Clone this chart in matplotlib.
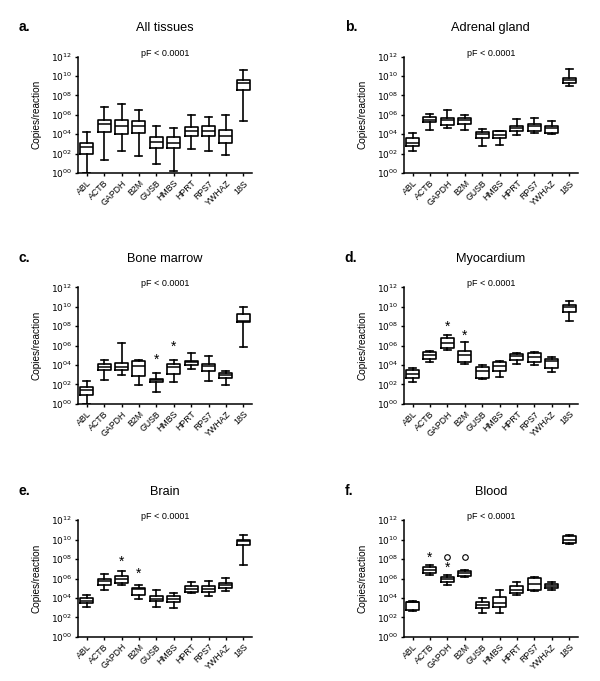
import matplotlib
matplotlib.use('Agg')
import matplotlib.pyplot as plt

plt.rcParams['font.family'] = ['Liberation Sans', 'DejaVu Sans']

# genes on the x axis
genes = ['ABL', 'ACTB', 'GAPDH', 'B2M', 'GUSB', 'HMBS', 'HPRT', 'RPS7', 'YWHAZ', '18S']

# box stats per gene, log10(copies): (whisker low, q1, median, q3, whisker high)
all_tissues = [(0.0, 1.94, 2.7, 3.12, 4.27), (1.32, 4.27, 5.06, 5.41, 6.8),
               (2.25, 3.99, 4.79, 5.48, 7.11), (1.73, 4.16, 4.86, 5.31, 6.45),
               (0.97, 2.53, 3.23, 3.75, 4.79), (0.21, 2.53, 3.12, 3.68, 4.61),
               (2.46, 3.85, 4.34, 4.72, 6.0), (2.29, 3.82, 4.37, 4.79, 5.76),
               (1.84, 3.05, 3.82, 4.44, 6.0), (5.31, 8.6, 9.23, 9.57, 10.61)]
adrenal = [(2.25, 2.81, 3.12, 3.57, 4.09), (4.44, 5.24, 5.48, 5.76, 6.1),
           (4.61, 4.96, 5.41, 5.65, 6.45), (4.44, 5.03, 5.41, 5.65, 6.0),
           (2.81, 3.64, 3.99, 4.27, 4.51), (2.88, 3.57, 3.92, 4.3, 4.34),
           (3.92, 4.34, 4.61, 4.86, 5.55), (4.09, 4.37, 4.79, 5.03, 5.65),
           (3.99, 4.16, 4.61, 4.79, 5.31), (8.95, 9.3, 9.54, 9.75, 10.68)]
bone_marrow = [(0.0, 0.89, 1.41, 1.71, 2.4), (2.5, 3.46, 3.81, 4.11, 4.49),
               (3.02, 3.46, 3.77, 4.22, 6.27), (1.99, 2.85, 3.87, 4.46, 4.56),
               (1.23, 2.23, 2.43, 2.61, 3.19), (2.26, 3.09, 3.81, 4.11, 4.56),
               (3.6, 4.05, 4.29, 4.46, 5.25), (2.33, 3.36, 3.94, 4.11, 4.9),
               (1.89, 2.67, 2.95, 3.19, 3.36), (5.83, 8.43, 8.57, 9.26, 9.98)]
myocardium = [(2.28, 2.62, 3.1, 3.48, 3.72), (4.31, 4.59, 5.0, 5.34, 5.45),
              (5.52, 5.79, 6.31, 6.76, 7.1), (4.14, 4.31, 5.0, 5.45, 6.41),
              (2.52, 2.62, 3.38, 3.83, 3.97), (2.76, 3.38, 3.9, 4.34, 4.41),
              (4.07, 4.48, 4.93, 5.17, 5.28), (3.97, 4.34, 4.83, 5.28, 5.38),
              (3.28, 3.66, 4.41, 4.59, 4.86), (8.55, 9.48, 9.93, 10.2, 10.55)]
brain = [(3.09, 3.43, 3.7, 4.01, 4.29), (4.8, 5.38, 5.73, 6.0, 6.44),
         (5.38, 5.55, 5.9, 6.24, 6.75), (3.94, 4.35, 4.87, 5.07, 5.31),
         (3.09, 3.67, 3.94, 4.18, 4.8), (2.98, 3.6, 3.87, 4.18, 4.53),
         (4.46, 4.56, 4.9, 5.21, 5.59), (4.22, 4.63, 4.9, 5.25, 5.73),
         (4.7, 5.04, 5.31, 5.55, 6.07), (7.44, 9.5, 9.84, 10.01, 10.52)]
blood = [(2.7, 2.75, 3.55, 3.6, 3.7), (6.37, 6.57, 6.89, 7.16, 7.4),
         (5.36, 5.67, 5.95, 6.12, 6.37), (6.19, 6.23, 6.54, 6.75, 6.92),
         (2.49, 2.94, 3.29, 3.63, 3.98), (2.49, 3.08, 3.46, 4.12, 4.81),
         (4.33, 4.5, 4.81, 5.26, 5.61), (4.74, 4.81, 5.43, 6.02, 6.19),
         (4.81, 4.98, 5.26, 5.43, 5.61), (9.58, 9.65, 9.93, 10.35, 10.52)]

# significance marks: (gene index, log10 height, symbol)
marks_c = [(4, 4.5, '*'), (5, 5.9, '*')]
marks_d = [(2, 7.9, '*'), (3, 7.0, '*')]
marks_e = [(2, 7.7, '*'), (3, 6.5, '*')]
marks_f = [(1, 8.1, '*'), (2, 7.1, '*'), (2, 8.2, 'o'), (3, 8.2, 'o')]

panels = [
    ('a.', 'All tissues', all_tissues, [], (0.130, 0.746)),
    ('b.', 'Adrenal gland', adrenal, [], (0.673, 0.746)),
    ('c.', 'Bone marrow', bone_marrow, marks_c, (0.130, 0.407)),
    ('d.', 'Myocardium', myocardium, marks_d, (0.673, 0.407)),
    ('e.', 'Brain', brain, marks_e, (0.130, 0.065)),
    ('f.', 'Blood', blood, marks_f, (0.673, 0.065)),
]

fig = plt.figure(figsize=(6.0, 6.81), dpi=100)

for letter, title, stats, marks, (left, bottom) in panels:
    ax = fig.add_axes([left, bottom, 0.29, 0.171])
    bx = []
    for lo, q1, med, q3, hi in stats:
        bx.append({'whislo': 10 ** lo, 'q1': 10 ** q1, 'med': 10 ** med,
                   'q3': 10 ** q3, 'whishi': 10 ** hi, 'fliers': []})
    ax.bxp(bx, positions=range(len(genes)), widths=0.75, showfliers=False,
           boxprops=dict(color='black', linewidth=1.2),
           medianprops=dict(color='black', linewidth=1.1),
           whiskerprops=dict(color='black', linewidth=1.2),
           capprops=dict(color='black', linewidth=1.2), capwidths=0.4)
    ax.set_yscale('log')
    ax.set_ylim(1, 1e12)
    ax.set_xlim(-0.5, 9.5)
    ax.set_yticks([10 ** k for k in range(0, 13, 2)])
    ax.set_yticklabels([r'$10^{%02d}$' % k for k in range(0, 13, 2)], fontsize=6.5)
    ax.minorticks_off()
    ax.set_xticks(range(len(genes)))
    ax.set_xticklabels(genes, rotation=45, ha='right', rotation_mode='anchor', fontsize=6.3)
    ax.spines['top'].set_visible(False)
    ax.spines['right'].set_visible(False)
    ax.spines['left'].set_linewidth(1.1)
    ax.spines['bottom'].set_linewidth(1.1)
    ax.tick_params(direction='out', length=2.5, width=1, pad=1.5)
    ax.set_ylabel('Copies/reaction', fontsize=7.2, labelpad=7)

    for gi, h, sym in marks:
        if sym == '*':
            ax.text(gi, 10 ** h, '*', ha='center', va='center', fontsize=10)
        else:
            ax.plot(gi, 10 ** h, 'o', mfc='white', mec='black', ms=4, mew=0.8)

    ax.text(0.5, 1.03, 'pF < 0.0001', transform=ax.transAxes, ha='center',
            va='center', fontsize=6.5)
    ax.text(0.5, 1.19, title, transform=ax.transAxes, ha='center',
            va='bottom', fontsize=9.2)
    ax.text(-0.34, 1.19, letter, transform=ax.transAxes, ha='left',
            va='bottom', fontsize=10, fontweight='bold')

fig.savefig('out.png', dpi=100)
